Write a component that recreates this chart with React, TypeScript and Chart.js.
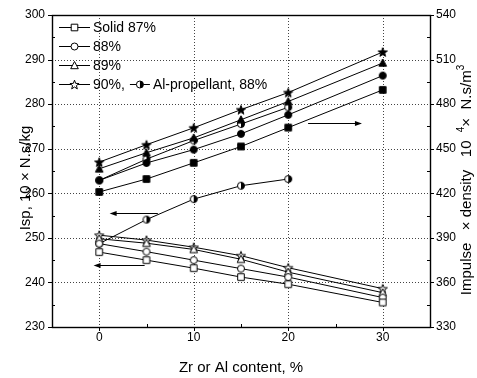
import React, { useEffect, useRef } from "react";
import { Chart, registerables } from "chart.js";
Chart.register(...registerables);

// ---- data ----
const xZr = [0, 5, 10, 15, 20, 30];
const xAl = [0, 5, 10, 15, 20];

// Isp (left axis), open markers
const isp87 = [246.8, 245.0, 243.2, 241.2, 239.6, 235.5];
const isp88 = [248.7, 246.9, 245.0, 243.1, 241.2, 236.6];
const isp89 = [249.8, 248.8, 247.4, 245.2, 242.3, 237.7];
const isp90 = [250.6, 249.5, 247.9, 246.0, 243.3, 238.6];
const ispAl = [248.7, 254.1, 258.7, 261.7, 263.2];

// Impulse x density (right axis), filled markers
const id87 = [420.9, 429.6, 440.5, 451.5, 464.2, 489.6];
const id88 = [428.7, 440.4, 449.4, 460.0, 472.8, 499.2];
const id89 = [436.5, 447.3, 457.3, 469.5, 481.8, 507.7];
const id90 = [441.0, 452.7, 464.1, 476.3, 487.8, 515.1];
const idAl = [428.7, 443.0, 455.5, 466.6, 477.9];

const xTicks = [0, 10, 20, 30];
const legendLabels = ["Solid 87%", "88%", "89%", "90%,", "Al-propellant, 88%"];
const xTitle = "Zr or Al content, %";
const yTitle = "Isp, 10 \u00d7 N.s/kg";

// arrows: [axisId, value, fromX, toX]
const arrows: [string, number, number, number][] = [
  ["y", 255.6, 6.2, 1.1],
  ["y", 243.8, 4.8, -0.6],
  ["y2", 467.4, 22.1, 27.8],
];

const FONT = "'Liberation Sans', Arial, Helvetica, sans-serif";

type Shape = "square" | "circle" | "triangle" | "star" | "half";

function shapePath(ctx: CanvasRenderingContext2D, shape: Shape, cx: number, cy: number) {
  ctx.beginPath();
  if (shape === "square") {
    ctx.rect(cx - 3.3, cy - 3.3, 6.6, 6.6);
  } else if (shape === "circle" || shape === "half") {
    ctx.arc(cx, cy, 3.5, 0, Math.PI * 2);
  } else if (shape === "triangle") {
    ctx.moveTo(cx, cy - 4);
    ctx.lineTo(cx + 3.8, cy + 3.2);
    ctx.lineTo(cx - 3.8, cy + 3.2);
    ctx.closePath();
  } else if (shape === "star") {
    for (let i = 0; i < 10; i++) {
      const a = -Math.PI / 2 + (i * Math.PI) / 5;
      const r = i % 2 ? 2.0 : 4.8;
      const px = cx + r * Math.cos(a);
      const py = cy + r * Math.sin(a) + 0.5;
      if (i === 0) ctx.moveTo(px, py);
      else ctx.lineTo(px, py);
    }
    ctx.closePath();
  }
}

function drawMarker(ctx: CanvasRenderingContext2D, shape: Shape, filled: boolean, cx: number, cy: number) {
  ctx.save();
  ctx.lineWidth = 1;
  ctx.strokeStyle = "#000";
  shapePath(ctx, shape, cx, cy);
  ctx.fillStyle = filled ? "#000" : "#fff";
  ctx.fill();
  ctx.stroke();
  if (shape === "half") {
    ctx.beginPath();
    ctx.arc(cx, cy, 3.5, -Math.PI / 2, Math.PI / 2);
    ctx.closePath();
    ctx.fillStyle = "#000";
    ctx.fill();
  }
  ctx.restore();
}

function makeMarker(shape: Shape, filled: boolean): HTMLCanvasElement {
  const c = document.createElement("canvas");
  c.width = 12;
  c.height = 12;
  const ctx = c.getContext("2d")!;
  drawMarker(ctx, shape, filled, 6, 6);
  return c;
}

function arrowHead(ctx: CanvasRenderingContext2D, x: number, y: number, dir: number) {
  ctx.beginPath();
  ctx.moveTo(x, y);
  ctx.lineTo(x - dir * 7, y - 2.5);
  ctx.lineTo(x - dir * 7, y + 2.5);
  ctx.closePath();
  ctx.fill();
}

const decorPlugin = {
  id: "decor",
  beforeDatasetsDraw(chart: any) {
    const { ctx, chartArea: ca, scales } = chart;
    const x = scales.x, y = scales.y, y2 = scales.y2;
    ctx.save();
    // dotted grid
    ctx.strokeStyle = "#444";
    ctx.lineWidth = 1;
    ctx.setLineDash([1, 2]);
    for (let v = 240; v <= 290; v += 10) {
      const py = Math.round(y.getPixelForValue(v)) + 0.5;
      ctx.beginPath();
      ctx.moveTo(ca.left, py);
      ctx.lineTo(ca.right, py);
      ctx.stroke();
    }
    for (const v of xTicks) {
      const px = Math.round(x.getPixelForValue(v)) + 0.5;
      ctx.beginPath();
      ctx.moveTo(px, ca.top);
      ctx.lineTo(px, ca.bottom);
      ctx.stroke();
    }
    ctx.setLineDash([]);
    // box
    ctx.strokeStyle = "#000";
    ctx.lineWidth = 1.4;
    ctx.strokeRect(ca.left + 0.5, ca.top + 0.5, ca.right - ca.left, ca.bottom - ca.top);
    // ticks
    ctx.lineWidth = 1;
    ctx.beginPath();
    for (let v = 230; v <= 300; v += 5) {
      const py = Math.round(y.getPixelForValue(v)) + 0.5;
      if (v % 10 === 0) { ctx.moveTo(ca.left - 4, py); ctx.lineTo(ca.left, py); }
      else { ctx.moveTo(ca.left, py); ctx.lineTo(ca.left + 3, py); }
    }
    for (let v = 330; v <= 540; v += 15) {
      const py = Math.round(y2.getPixelForValue(v)) + 0.5;
      if (v % 30 === 0) { ctx.moveTo(ca.right, py); ctx.lineTo(ca.right + 4, py); }
      else { ctx.moveTo(ca.right - 3, py); ctx.lineTo(ca.right, py); }
    }
    for (let v = -5; v <= 35; v += 5) {
      const px = Math.round(x.getPixelForValue(v)) + 0.5;
      if (v % 10 === 0) { ctx.moveTo(px, ca.bottom); ctx.lineTo(px, ca.bottom + 4); }
      else { ctx.moveTo(px, ca.bottom - 3); ctx.lineTo(px, ca.bottom); }
    }
    ctx.stroke();
    ctx.restore();
  },
  afterDatasetsDraw(chart: any) {
    const { ctx, scales } = chart;
    const x = scales.x;
    ctx.save();
    // arrows
    ctx.strokeStyle = "#000";
    ctx.fillStyle = "#000";
    ctx.lineWidth = 1;
    for (const [axis, val, from, to] of arrows) {
      const py = Math.round(scales[axis].getPixelForValue(val)) + 0.5;
      const x1 = x.getPixelForValue(from);
      const x2 = x.getPixelForValue(to);
      const dir = x2 > x1 ? 1 : -1;
      ctx.beginPath();
      ctx.moveTo(x1, py);
      ctx.lineTo(x2 - dir * 5, py);
      ctx.stroke();
      arrowHead(ctx, x2, py, dir);
    }
    // legend
    ctx.font = `14px ${FONT}`;
    ctx.textBaseline = "middle";
    ctx.fillStyle = "#000";
    const rows = [27, 46, 65, 84];
    const shapes: Shape[] = ["square", "circle", "triangle", "star"];
    const seg = (x0: number, x1: number, yy: number, shape: Shape) => {
      ctx.beginPath();
      ctx.moveTo(x0, yy + 0.5);
      ctx.lineTo(x1, yy + 0.5);
      ctx.stroke();
      drawMarker(ctx, shape, false, (x0 + x1) / 2, yy + 0.5);
    };
    for (let i = 0; i < 4; i++) {
      seg(59, 90, rows[i], shapes[i]);
      ctx.fillText(legendLabels[i], 93, rows[i] + 1);
    }
    const w4 = ctx.measureText(legendLabels[3]).width;
    const sx = 93 + w4 + 5;
    seg(sx, sx + 20, rows[3], "half");
    ctx.fillText(legendLabels[4], sx + 23, rows[3] + 1);

    // x title
    ctx.font = `15px ${FONT}`;
    ctx.textAlign = "center";
    ctx.fillText(xTitle, 241, 368);
    // left title
    ctx.save();
    ctx.translate(26, 178);
    ctx.rotate(-Math.PI / 2);
    ctx.fillText(yTitle, 0, 0);
    ctx.restore();
    // right title with superscripts
    ctx.save();
    ctx.translate(467, 180);
    ctx.rotate(-Math.PI / 2);
    ctx.textAlign = "left";
    const parts: [string, boolean][] = [
      ["Impulse   \u00d7 density   10  ", false],
      ["4", true],
      ["\u00d7  N.s/m", false],
      ["3", true],
    ];
    const fontFor = (sup: boolean) => (sup ? `10px ${FONT}` : `15px ${FONT}`);
    let total = 0;
    for (const [t, s] of parts) { ctx.font = fontFor(s); total += ctx.measureText(t).width; }
    let cx = -total / 2;
    for (const [t, s] of parts) {
      ctx.font = fontFor(s);
      ctx.fillText(t, cx, s ? -6 : 0);
      cx += ctx.measureText(t).width;
    }
    ctx.restore();
    ctx.restore();
  },
};

export default function App() {
  const ref = useRef<HTMLCanvasElement>(null);
  useEffect(() => {
    if (!ref.current) return;
    const mk = (
      label: string,
      xs: number[],
      ys: number[],
      axis: string,
      shape: Shape,
      filled: boolean
    ) => ({
      label,
      data: xs.map((xv, i) => ({ x: xv, y: ys[i] })),
      yAxisID: axis,
      borderColor: "#000",
      borderWidth: 1,
      pointStyle: makeMarker(shape, filled),
      pointRadius: 4,
      tension: 0,
      fill: false,
    });
    const datasets = [
      mk("87% Isp", xZr, isp87, "y", "square", false),
      mk("88% Isp", xZr, isp88, "y", "circle", false),
      mk("89% Isp", xZr, isp89, "y", "triangle", false),
      mk("Al Isp", xAl, ispAl, "y", "half", false),
      mk("90% Isp", xZr, isp90, "y", "star", false),
      mk("87% ID", xZr, id87, "y2", "square", true),
      mk("88% ID", xZr, id88, "y2", "circle", true),
      mk("89% ID", xZr, id89, "y2", "triangle", true),
      mk("Al ID", xAl, idAl, "y2", "half", false),
      mk("90% ID", xZr, id90, "y2", "star", true),
    ];
    const tickFont = { family: FONT, size: 12 };
    const chart = new Chart(ref.current, {
      type: "line",
      data: { datasets },
      options: {
        animation: false,
        responsive: true,
        maintainAspectRatio: false,
        layout: { padding: { top: 15, left: 0, right: 0, bottom: 0 } },
        plugins: { legend: { display: false }, tooltip: { enabled: false } },
        scales: {
          x: {
            type: "linear",
            position: "bottom",
            min: -5,
            max: 35,
            grid: { display: false, drawTicks: false },
            border: { display: false },
            ticks: { font: tickFont, color: "#000", padding: 3 },
            afterBuildTicks: (s: any) => {
              s.ticks = xTicks.map((v) => ({ value: v }));
            },
            afterFit: (s: any) => {
              s.height = 51;
            },
          },
          y: {
            type: "linear",
            position: "left",
            min: 230,
            max: 300,
            grid: { display: false, drawTicks: false },
            border: { display: false },
            ticks: { stepSize: 10, font: tickFont, color: "#000", padding: 7 },
            afterFit: (s: any) => {
              s.width = 52;
            },
          },
          y2: {
            type: "linear",
            position: "right",
            min: 330,
            max: 540,
            grid: { display: false, drawTicks: false },
            border: { display: false },
            ticks: { stepSize: 30, font: tickFont, color: "#000", padding: 6 },
            afterFit: (s: any) => {
              s.width = 47;
            },
          },
        },
      },
      plugins: [decorPlugin],
    } as any);
    return () => chart.destroy();
  }, []);
  return (
    <div style={{ position: "fixed", left: 0, top: 0, width: 477, height: 378, background: "#fff" }}>
      <canvas ref={ref} />
    </div>
  );
}
